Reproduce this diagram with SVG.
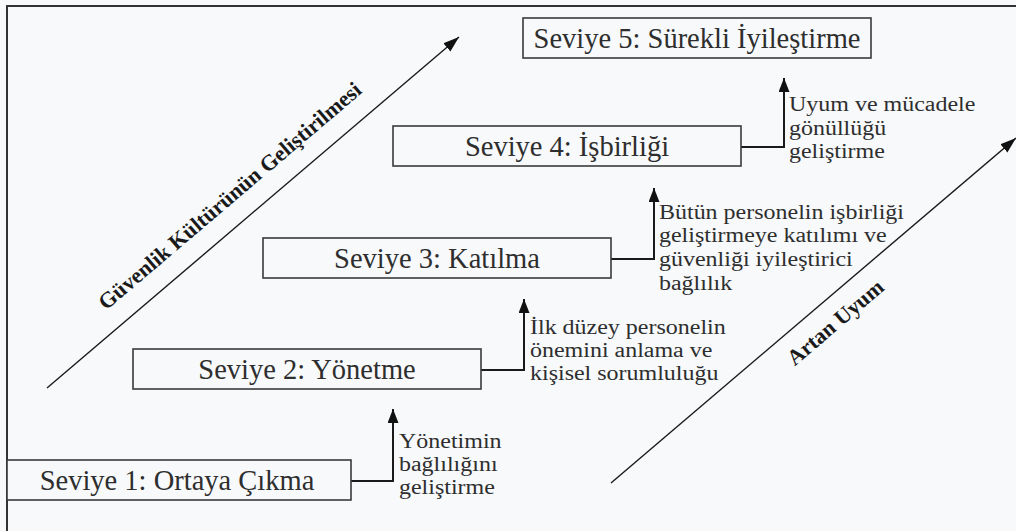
<svg xmlns="http://www.w3.org/2000/svg" width="1016" height="531" viewBox="0 0 1016 531">
  <defs>
    <style>
      .bg { fill: #f7f9fb; }
      .frame { fill: none; stroke: #333; stroke-width: 2; }
      .box { fill: #f7f9fb; stroke: #3a3a3a; stroke-width: 1.6; }
      .lbl { font-family: "Liberation Serif", "Times New Roman", serif; font-size: 28.5px; fill: #2e2e2e; text-anchor: middle; }
      .side { font-family: "Liberation Serif", "Times New Roman", serif; font-size: 20.5px; fill: #2e2e2e; }
      .axis { font-family: "Liberation Serif", "Times New Roman", serif; font-size: 22px; font-weight: bold; fill: #1a1a1a; text-anchor: middle; }
      .conn { fill: none; stroke: #1a1a1a; stroke-width: 2; }
      .diag { fill: none; stroke: #1a1a1a; stroke-width: 1.4; }
    </style>
    <marker id="headV" markerUnits="userSpaceOnUse" markerWidth="15" markerHeight="12" refX="14" refY="5.5" orient="auto">
      <path d="M0,0 L14,5.5 L0,11 z" fill="#111"/>
    </marker>
    <marker id="headD" markerUnits="userSpaceOnUse" markerWidth="18" markerHeight="12" refX="16" refY="5.5" orient="auto">
      <path d="M0,0 L16,5.5 L0,11 z" fill="#111"/>
    </marker>
  </defs>

  <rect class="bg" x="0" y="0" width="1016" height="531"/>
  <rect class="frame" x="7" y="6" width="1030" height="540"/>

  <g id="connectors">
    <path class="conn" d="M351,481 H393 V409" marker-end="url(#headV)"/>
    <path class="conn" d="M481,370 H524 V299" marker-end="url(#headV)"/>
    <path class="conn" d="M611,259 H654 V188" marker-end="url(#headV)"/>
    <path class="conn" d="M741,147 H784 V78" marker-end="url(#headV)"/>
    <line class="diag" x1="47" y1="388" x2="459" y2="37" marker-end="url(#headD)"/>
    <line class="diag" x1="611" y1="483" x2="1016" y2="138" marker-end="url(#headD)"/>
  </g>

  <g id="level1">
    <rect class="box" x="7" y="460" width="344" height="40"/>
    <text class="lbl" x="177" y="490">Seviye 1: Ortaya Çıkma</text>
  </g>
  <g id="level2">
    <rect class="box" x="133" y="349" width="348" height="40"/>
    <text class="lbl" x="307" y="379">Seviye 2: Yönetme</text>
  </g>
  <g id="level3">
    <rect class="box" x="263" y="238" width="348" height="40"/>
    <text class="lbl" x="437" y="268">Seviye 3: Katılma</text>
  </g>
  <g id="level4">
    <rect class="box" x="393" y="126" width="348" height="40"/>
    <text class="lbl" x="567" y="156">Seviye 4: İşbirliği</text>
  </g>
  <g id="level5">
    <rect class="box" x="523" y="18" width="348" height="40"/>
    <text class="lbl" x="697" y="48">Seviye 5: Sürekli İyileştirme</text>
  </g>

  <g id="note1" transform="translate(399,448) scale(1.17,1)">
    <text class="side" x="0" y="0">Yönetimin</text>
    <text class="side" x="0" y="23">bağlılığını</text>
    <text class="side" x="0" y="46">geliştirme</text>
  </g>
  <g id="note2" transform="translate(530,334) scale(1.17,1)">
    <text class="side" x="0" y="0">İlk düzey personelin</text>
    <text class="side" x="0" y="23">önemini anlama ve</text>
    <text class="side" x="0" y="46">kişisel sorumluluğu</text>
  </g>
  <g id="note3" transform="translate(659,219) scale(1.17,1)">
    <text class="side" x="0" y="0">Bütün personelin işbirliği</text>
    <text class="side" x="0" y="23.5">geliştirmeye katılımı ve</text>
    <text class="side" x="0" y="47">güvenliği iyileştirici</text>
    <text class="side" x="0" y="71">bağlılık</text>
  </g>
  <g id="note4" transform="translate(789,111) scale(1.17,1)">
    <text class="side" x="0" y="0">Uyum ve mücadele</text>
    <text class="side" x="0" y="24">gönüllüğü</text>
    <text class="side" x="0" y="47">geliştirme</text>
  </g>

  <g id="axis-left">
    <text class="axis" transform="translate(234.5,201.5) rotate(-40.4)">Güvenlik Kültürünün Geliştirilmesi</text>
  </g>
  <g id="axis-right">
    <text class="axis" transform="translate(840,328) rotate(-40.4)">Artan Uyum</text>
  </g>
</svg>
